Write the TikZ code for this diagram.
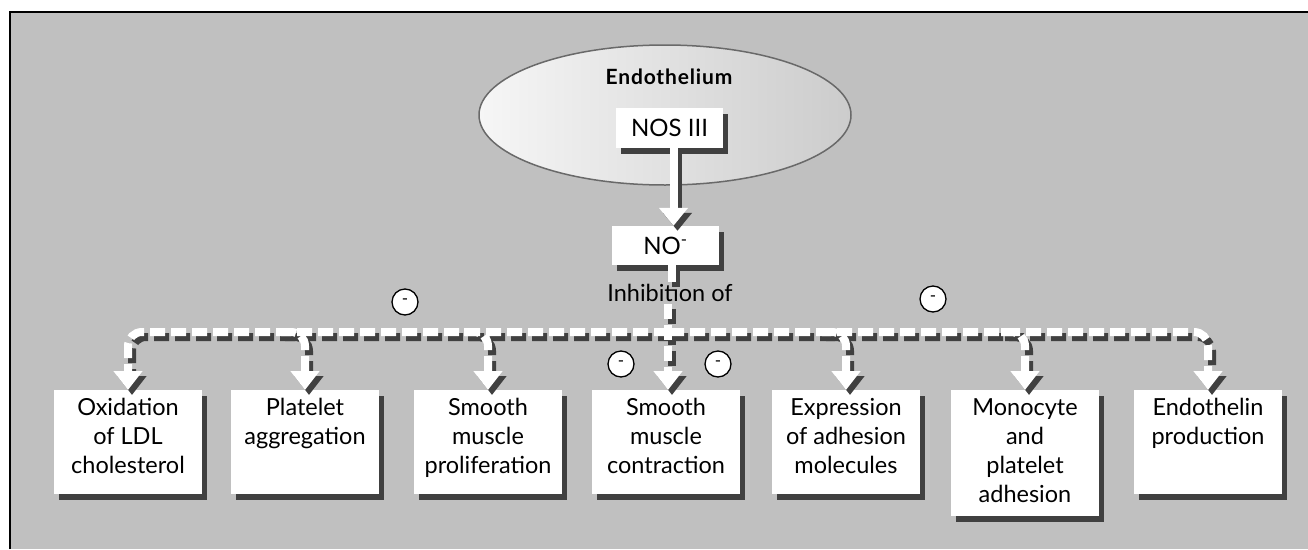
\documentclass[tikz,border=0pt]{standalone}
\usepackage{fontspec}
\setmainfont{Lato}
\usetikzlibrary{arrows.meta,shapes.geometric,shadows,calc}
\definecolor{bg}{RGB}{192,192,192}
\definecolor{shd}{RGB}{64,64,64}
\definecolor{ellline}{RGB}{105,105,105}
\tikzset{
  boxnode/.style={draw=none, fill=white, inner sep=4pt, anchor=north,
    drop shadow={shadow xshift=5pt, shadow yshift=-6pt, fill=shd, opacity=1}},
  smallbox/.style={draw=none, fill=white, inner sep=0pt, minimum width=107pt,
    drop shadow={shadow xshift=5pt, shadow yshift=-6pt, fill=shd, opacity=1},
    font=\fontsize{24}{26}\selectfont},
  solidarrow/.style={line width=8pt, -{Triangle[width=28pt,length=18pt]}},
  solidline/.style={line width=8pt},
  dasharrow/.style={line width=8pt, dash pattern=on 15pt off 6pt, -{Triangle[width=28pt,length=19pt]}},
  minus/.style={circle, draw=black, line width=1.3pt, fill=white, minimum size=26pt, inner sep=0pt, font=\fontsize{17}{17}\selectfont},
  shadowlayer/.style={transform canvas={shift={(4pt,-5pt)}}, draw=shd, color=shd},
  toplayer/.style={draw=white, color=white}
}
\newcommand{\bt}[2]{\parbox[t][#1][t]{140pt}{\centering\fontsize{23.5}{29}\selectfont\vspace*{4pt}#2}}
\newcommand{\connectorset}{%
    \draw[solidarrow] ([xshift=4pt]nos.south) -- ([xshift=4pt]nos.south |- no.north);
    \draw[solidline] ([xshift=6pt]no.south) -- ([xshift=6pt]no.south |- inh.north);
    \draw[dasharrow] ([xshift=-2pt]inh.south) -- ([xshift=-2pt]inh.south |- b4.north);
    \draw[dasharrow, rounded corners=14pt] (j) -| (b1.north);
    \draw[dasharrow, rounded corners=14pt] (j) -| (b7.north);
    \draw[dasharrow, rounded corners=14pt] ($(j -| b2.north)+(-24,0)$) -| (b2.north);
    \draw[dasharrow, rounded corners=14pt] ($(j -| b3.north)+(-24,0)$) -| (b3.north);
    \draw[dasharrow, rounded corners=14pt] ($(j -| b5.north)+(-24,0)$) -| (b5.north);
    \draw[dasharrow, rounded corners=14pt] ($(j -| b6.north)+(-24,0)$) -| (b6.north);
}
\begin{document}
\begin{tikzpicture}[x=1pt,y=-1pt]
\useasboundingbox (0,0) rectangle (1308,549);
\fill[bg] (10,12) rectangle (1308,549);
\draw[black, line width=2.2pt] (10,549) -- (10,12) -- (1308,12);

% ellipse
\node[ellipse, draw=ellline, line width=1.5pt, left color={rgb,255:red,246;green,246;blue,246}, right color={rgb,255:red,204;green,204;blue,204}, minimum width=372pt, minimum height=140pt, inner sep=0pt] (endo) at (665,115) {};
\node[font=\bfseries\fontsize{21}{24}\selectfont\addfontfeature{LetterSpace=4}, inner sep=0pt] (endotext) at (669,77) {Endothelium};

\node[smallbox, minimum height=40pt] (nos) at (669.5,128) {NOS III};
\node[smallbox, minimum height=39pt] (no) at (665.5,245.5) {NO\textsuperscript{-}};
\node[font=\fontsize{23.5}{26}\selectfont, inner sep=2pt] (inh) at (670,293) {Inhibition of};

% boxes
\node[boxnode] (b1) at (128,390) {\bt{96pt}{Oxidation\\of LDL\\cholesterol}};
\node[boxnode] (b2) at (305,390) {\bt{96pt}{Platelet\\aggregation}};
\node[boxnode] (b3) at (488,390) {\bt{96pt}{Smooth\\muscle\\proliferation}};
\node[boxnode] (b4) at (666,390) {\bt{96pt}{Smooth\\muscle\\contraction}};
\node[boxnode] (b5) at (846,390) {\bt{96pt}{Expression\\of adhesion\\molecules}};
\node[boxnode] (b6) at (1025,390) {\bt{118pt}{Monocyte\\and\\platelet\\adhesion}};
\node[boxnode] (b7) at (1208,390) {\bt{96pt}{Endothelin\\production}};

\coordinate (j) at (669,332);

% connectors: shadow then white
\begin{scope}[shadowlayer]
\connectorset
\end{scope}
\begin{scope}[toplayer]
\connectorset
\end{scope}

\node[minus] (m1) at (405,302) {-};
\node[minus] (m2) at (933,299) {-};
\node[minus] (m3) at (621,364) {-};
\node[minus] (m4) at (718,364) {-};
\end{tikzpicture}
\end{document}
